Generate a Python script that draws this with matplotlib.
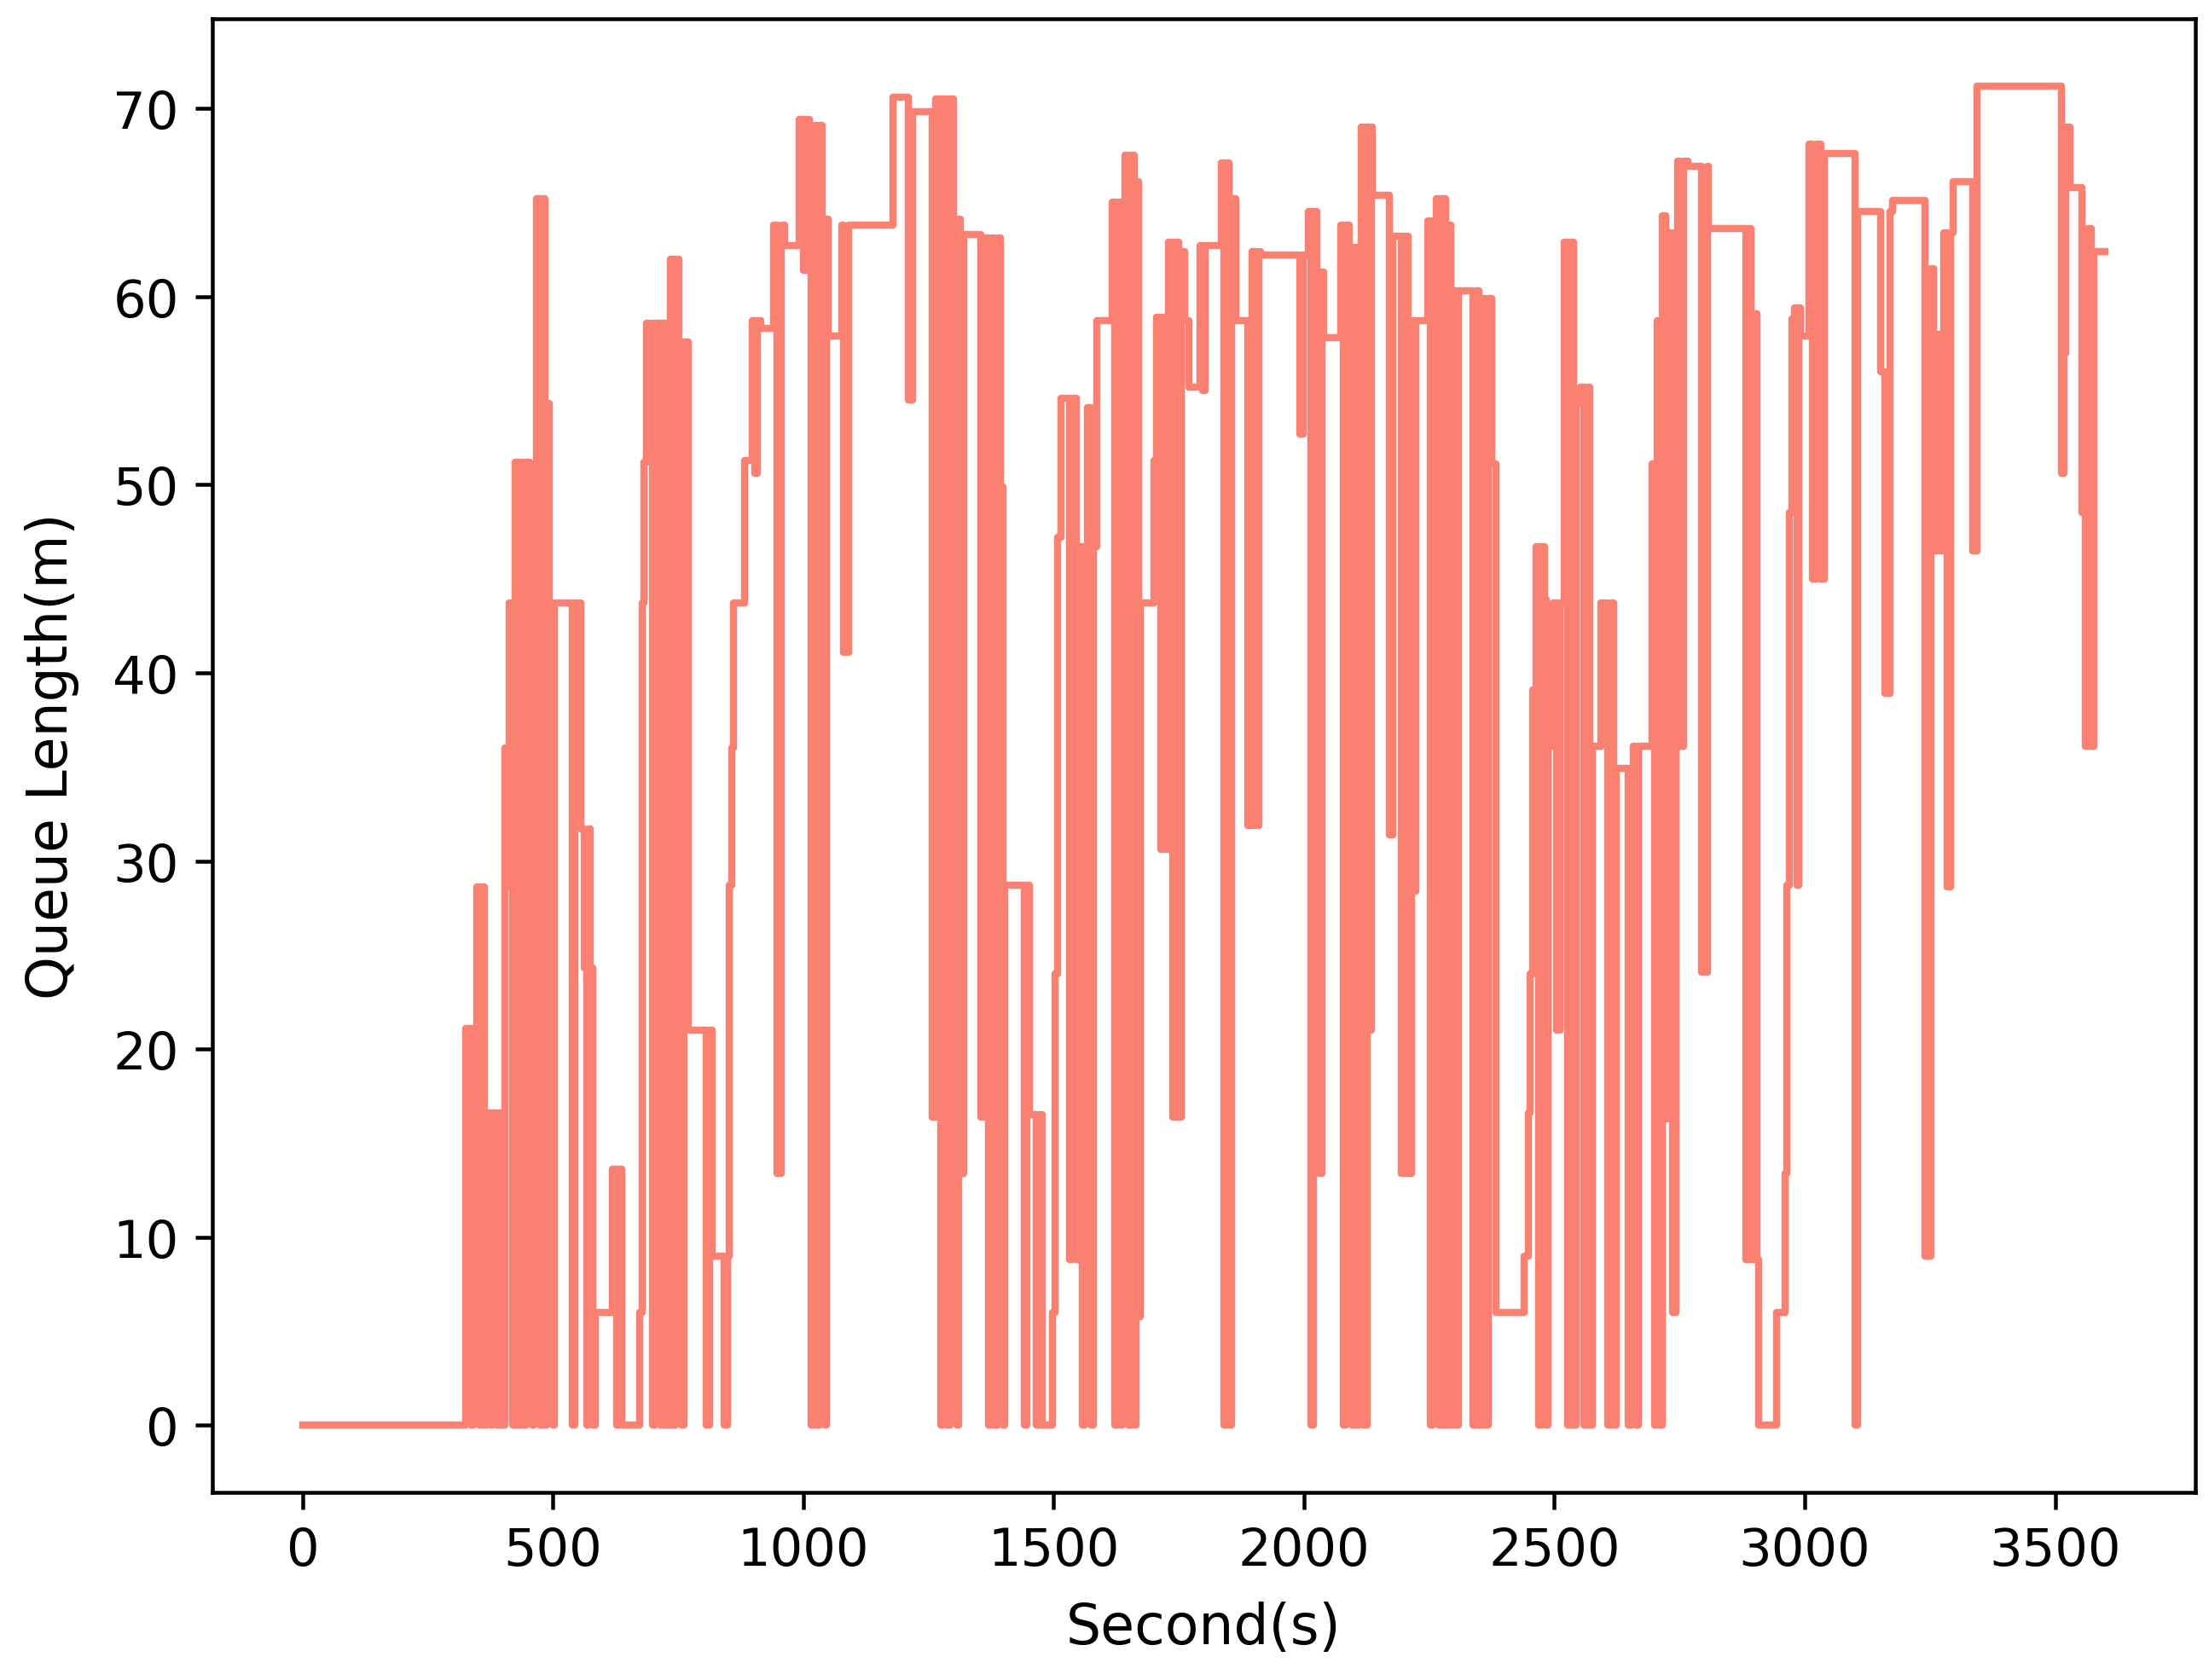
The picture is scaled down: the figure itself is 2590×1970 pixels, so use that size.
import matplotlib
matplotlib.use('Agg')
import matplotlib.pyplot as plt

# step changes of the queue: time (s) and queue length (m) from that time on
seconds = [
    0, 325, 336, 341, 347, 353, 357, 363, 369, 376, 380, 388, 392, 399, 404, 409,
    413, 420, 424, 431, 435, 442, 446, 453, 458, 462, 467, 473, 478, 484, 488, 493,
    499, 503, 539, 543, 556, 563, 567, 571, 575, 579, 585, 619, 627, 631, 637, 673,
    678, 682, 687, 699, 703, 714, 718, 723, 727, 731, 735, 741, 745, 752, 757, 762,
    770, 806, 812, 818, 842, 848, 852, 857, 861, 882, 898, 903, 908, 915, 940, 948,
    956, 962, 992, 1000, 1005, 1012, 1016, 1022, 1028, 1033, 1038, 1042, 1046, 1050,
    1076, 1080, 1090, 1179, 1210, 1218, 1258, 1264, 1274, 1280, 1288, 1294, 1300,
    1306, 1310, 1314, 1320, 1354, 1362, 1370, 1376, 1382, 1388, 1393, 1398, 1402,
    1442, 1447, 1451, 1466, 1471, 1477, 1497, 1502, 1508, 1515, 1532, 1537, 1546,
    1551, 1557, 1562, 1568, 1574, 1579, 1586, 1617, 1622, 1627, 1634, 1638, 1643,
    1650, 1655, 1661, 1665, 1669, 1673, 1700, 1705, 1714, 1720, 1724, 1729, 1738,
    1745, 1750, 1754, 1762, 1770, 1793, 1798, 1803, 1835, 1840, 1846, 1851, 1856,
    1863, 1888, 1896, 1903, 1910, 1914, 1992, 1999, 2008, 2013, 2019, 2025, 2030,
    2036, 2040, 2073, 2078, 2083, 2090, 2095, 2100, 2106, 2110, 2114, 2120, 2126,
    2129, 2134, 2137, 2170, 2177, 2194, 2201, 2208, 2215, 2218, 2223, 2247, 2252,
    2258, 2264, 2270, 2276, 2282, 2288, 2293, 2297, 2303, 2308, 2337, 2343, 2350,
    2356, 2362, 2368, 2375, 2384, 2440, 2448, 2452, 2456, 2464, 2469, 2475, 2480,
    2484, 2488, 2497, 2505, 2511, 2520, 2526, 2532, 2538, 2544, 2552, 2558, 2564,
    2570, 2576, 2592, 2607, 2613, 2619, 2624, 2648, 2654, 2658, 2662, 2667, 2695,
    2700, 2705, 2710, 2715, 2722, 2727, 2736, 2742, 2746, 2752, 2758, 2766, 2793,
    2805, 2808, 2882, 2888, 2893, 2897, 2904, 2908, 2943, 2960, 2965, 2969, 2974,
    2979, 2984, 2988, 2992, 3009, 3016, 3024, 3032, 3039, 3100, 3106, 3152, 3160,
    3170, 3176, 3240, 3252, 3258, 3265, 3272, 3278, 3284, 3292, 3296, 3336, 3344,
    3512, 3518, 3522, 3530, 3553, 3560, 3566, 3572, 3578, 3600,
]
queue_len = [
    0, 21.1, 0, 21.1, 28.6, 0, 28.6, 0, 16.6, 0, 16.6, 0, 16.6, 0, 36.0, 28.6,
    43.7, 0, 51.2, 0, 51.2, 0, 51.2, 49.0, 0, 49.0, 65.2, 0, 65.2, 0, 54.3, 43.7,
    0, 43.7, 0, 43.7, 31.7, 24.3, 0, 31.7, 24.3, 0, 6.0, 13.6, 0, 13.6, 0, 6.0,
    43.7, 51.2, 58.6, 0, 58.6, 0, 58.6, 0, 58.6, 0, 62.0, 0, 62.0, 57.6, 0, 57.6,
    21.0, 0, 21.0, 9.0, 0, 9.0, 28.7, 36.0, 43.7, 51.3, 58.7, 50.6, 58.7, 58.3, 63.8, 13.4,
    63.8, 62.7, 69.4, 61.4, 69.4, 69.1, 0, 69.1, 0, 69.1, 64.1, 0, 64.1, 57.9,
    63.8, 41.1, 63.8, 70.6, 54.5, 69.8, 16.4, 70.5, 0, 70.5, 0, 70.5, 64.1,
    0, 64.1, 13.4, 63.3, 16.4, 63.1, 0, 63.1, 0, 63.1, 49.9, 0, 28.7,
    0, 28.7, 16.5, 0, 16.5, 0, 6.0, 24.0, 47.2, 54.6, 8.8, 54.6, 8.8,
    46.7, 0, 46.7, 54.1, 0, 46.7, 58.7, 65.0, 0, 65.0, 0, 65.0, 67.5,
    0, 67.5, 0, 66.1, 5.8, 43.7, 51.3, 58.9, 30.6, 58.9, 30.6, 62.9, 16.4,
    62.9, 16.4, 62.4, 58.7, 55.2, 62.7, 55.0, 62.7, 67.1, 0, 67.1, 0, 65.2,
    58.7, 31.9, 62.4, 31.9, 62.4, 62.2, 52.7, 62.2, 64.5, 0, 64.5, 61.3, 13.4,
    61.3, 57.8, 63.8, 0, 63.8, 62.6, 0, 62.6, 0, 62.6, 69.0, 0, 69.0,
    21.0, 69.0, 65.4, 31.4, 63.2, 13.4, 63.2, 13.4, 58.7, 28.4, 58.7, 64.0, 0,
    64.0, 65.2, 0, 65.2, 0, 63.8, 0, 60.3, 0, 60.3, 0, 60.3, 0,
    59.9, 0, 59.9, 51.1, 6.0, 9.0, 16.6, 24.0, 39.1, 46.7, 0, 46.7, 43.9,
    0, 36.1, 43.7, 21.0, 43.7, 62.9, 0, 62.9, 0, 54.3, 55.2, 0, 55.2,
    0, 36.1, 43.7, 0, 43.7, 0, 34.9, 0, 34.9, 36.1, 0, 36.1, 51.1,
    0, 58.7, 0, 64.3, 16.3, 63.4, 6.0, 63.4, 67.2, 36.1, 67.2, 66.9, 24.1,
    66.9, 63.6, 8.8, 63.6, 8.8, 59.1, 8.8, 0, 6.0, 13.4, 28.7, 48.5, 58.8,
    59.4, 28.7, 59.4, 57.9, 68.1, 45.0, 68.1, 45.0, 67.6, 0, 64.5, 56.0, 38.9,
    64.5, 65.1, 9.0, 61.5, 46.5, 58.0, 46.5, 63.4, 28.6, 63.4, 66.1, 46.5, 71.2,
    50.6, 57.0, 69.0, 65.8, 48.5, 36.1, 63.6, 36.1, 62.4, 62.4,
]

fig, ax = plt.subplots(figsize=(2590 / 405, 1971 / 405), dpi=405)
fig.subplots_adjust(left=0.0962, right=0.9938, bottom=0.1116, top=0.9883)

ax.plot(seconds, queue_len, drawstyle='steps-post', color='salmon', linewidth=1.5)
ax.set_xlabel('Second(s)', fontsize=11.5, labelpad=5)
ax.set_ylabel('Queue Length(m)', fontsize=11.5, labelpad=7)
ax.tick_params(labelsize=10.8)

fig.savefig('out.png', dpi=405)
